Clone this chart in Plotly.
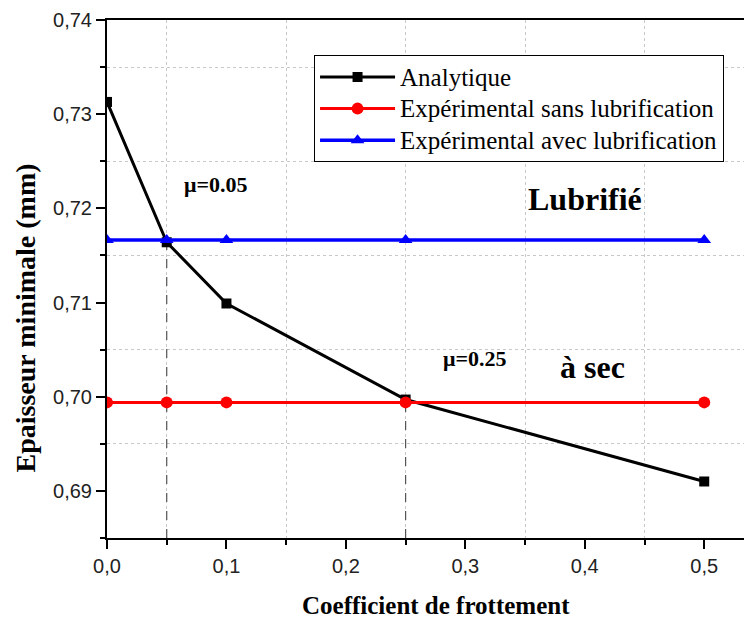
import plotly.graph_objects as go

# Data
coef = [0.0, 0.05, 0.1, 0.25, 0.5]
analytique = [0.7313, 0.7164, 0.7099, 0.6997, 0.6910]
exp_sans = [0.6994, 0.6994, 0.6994, 0.6994, 0.6994]
exp_avec = [0.71665, 0.71665, 0.71665, 0.71665, 0.71665]
series_names = ["Analytique", "Expérimental sans lubrification", "Expérimental avec lubrification"]
mu_marks = [0.05, 0.25]
mu_idx = [1, 3]
x_range = [0.0, 0.54]
y_range = [0.685, 0.74]

serif = "Liberation Serif, Times New Roman, serif"
sans = "Liberation Sans, Arial, sans-serif"


def lname(s):
    return '<span style="font-size:25px">%s</span>' % s


fig = go.Figure()

# drop lines
for m, i in zip(mu_marks, mu_idx):
    fig.add_trace(go.Scatter(x=[m, m], y=[y_range[0], analytique[i]], mode="lines",
                             line=dict(color="#555555", width=1.2, dash="dash"),
                             showlegend=False, hoverinfo="skip"))

fig.add_trace(go.Scatter(x=coef, y=analytique, mode="lines+markers", name=lname(series_names[0]),
                         line=dict(color="#000000", width=3),
                         marker=dict(symbol="square", size=10, color="#000000")))
fig.add_trace(go.Scatter(x=coef, y=exp_sans, mode="lines+markers", name=lname(series_names[1]),
                         line=dict(color="#ff0000", width=3),
                         marker=dict(symbol="circle", size=12, color="#ff0000")))
fig.add_trace(go.Scatter(x=coef, y=exp_avec, mode="lines+markers", name=lname(series_names[2]),
                         line=dict(color="#0000ff", width=3.5),
                         marker=dict(symbol="triangle-up", size=12, color="#0000ff")))

anns = [
    ("μ=0.05", 0.0911, 0.7225, 22),
    ("Lubrifié", 0.4005, 0.7210, 32),
    ("μ=0.25", 0.3085, 0.7041, 22),
    ("à sec", 0.4064, 0.7032, 32),
]
for t, x, y, s in anns:
    fig.add_annotation(x=x, y=y, text="<b>%s</b>" % t, showarrow=False,
                       font=dict(family=serif, size=s, color="#000000"))

# axis titles as annotations (paper coords)
fig.add_annotation(xref="paper", yref="paper", x=0.510, y=-0.130, xanchor="center", yanchor="middle",
                   text="<b>Coefficient de frottement</b>", showarrow=False,
                   font=dict(family=serif, size=25, color="#000000"))
fig.add_annotation(xref="paper", yref="paper", x=-0.127, y=0.424, xanchor="center", yanchor="middle",
                   textangle=-90, text="<b>Epaisseur minimale (mm)</b>", showarrow=False,
                   font=dict(family=serif, size=28, color="#000000"))

fig.update_layout(
    width=744, height=611,
    margin=dict(l=99, r=0, t=12, b=81),
    paper_bgcolor="white", plot_bgcolor="white",
    separators=",.",
    showlegend=True,
    legend=dict(x=0.321, y=0.932, xanchor="left", yanchor="top",
                bordercolor="#000000", borderwidth=1, bgcolor="white",
                font=dict(family=serif, size=22, color="#000000"),
                traceorder="normal", itemwidth=75, tracegroupgap=0),
    xaxis=dict(range=x_range, dtick=0.1, tick0=0, tickformat=".1f",
               showline=True, linecolor="black", linewidth=2, mirror=True,
               ticks="outside", ticklen=9, tickwidth=2, tickcolor="black",
               showgrid=False, zeroline=False,
               tickfont=dict(family=sans, size=20, color="#222222"),
               minor=dict(dtick=0.05, ticks="outside", ticklen=5, tickwidth=2, tickcolor="black",
                          showgrid=True, gridcolor="#c8c8c8", griddash="dot", gridwidth=1)),
    yaxis=dict(range=y_range, dtick=0.01, tick0=0.69, tickformat=".2f",
               showline=True, linecolor="black", linewidth=2, mirror=False,
               ticks="outside", ticklen=9, tickwidth=2, tickcolor="black",
               showgrid=False, zeroline=False,
               tickfont=dict(family=sans, size=20, color="#222222"),
               minor=dict(dtick=0.005, ticks="outside", ticklen=5, tickwidth=2, tickcolor="black",
                          showgrid=True, gridcolor="#c8c8c8", griddash="dot", gridwidth=1)),
)

fig.write_html("out.html")
